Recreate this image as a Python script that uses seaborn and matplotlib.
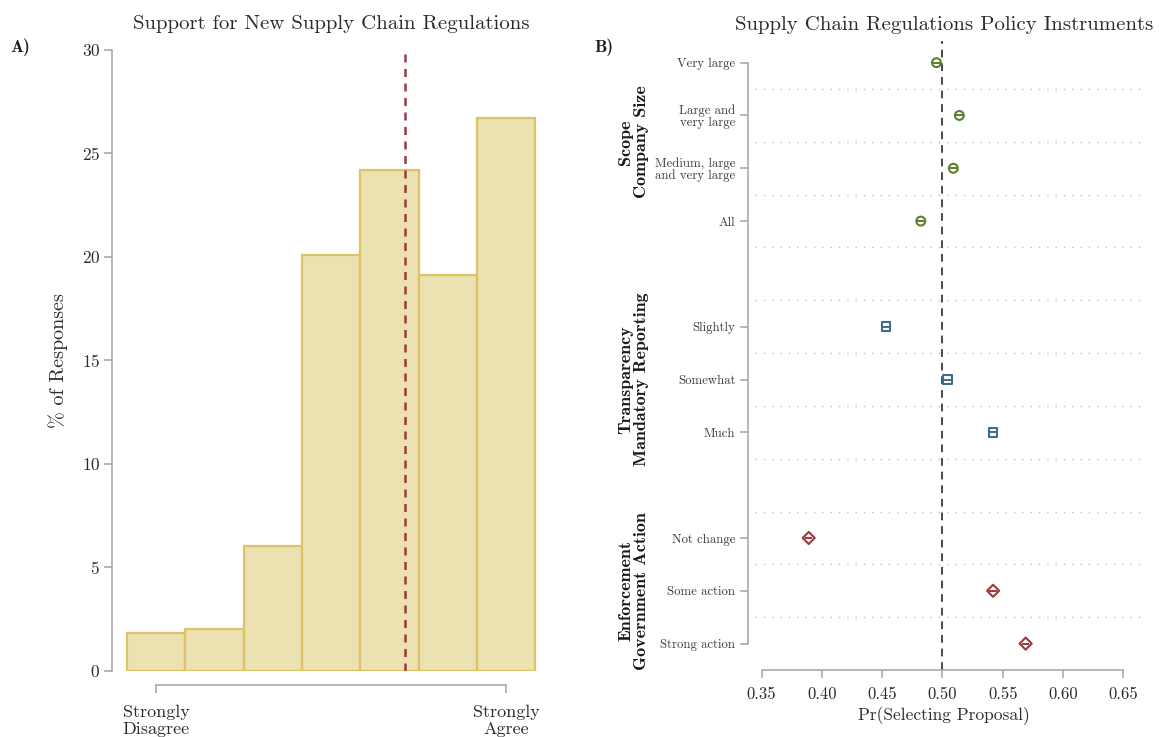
import numpy as np
import pandas as pd
import matplotlib
matplotlib.use("Agg")
import matplotlib.pyplot as plt
import matplotlib.transforms as mtransforms
import seaborn as sns

# ---- Panel A: distribution of support (7-point scale) ----
support_levels = [1, 2, 3, 4, 5, 6, 7]
support_pct = [1.8, 2.0, 6.0, 20.1, 24.2, 19.1, 26.7]
support_tick_labels = ["Strongly\nDisagree", "Strongly\nAgree"]

# ---- Panel B: marginal means by attribute level ----
scope_labels = ["Very large", "Large and\nvery large", "Medium, large\nand very large", "All"]
scope_est = [0.495, 0.514, 0.509, 0.482]
scope_lo = [0.492, 0.511, 0.506, 0.479]
scope_hi = [0.498, 0.517, 0.512, 0.485]

transp_labels = ["Slightly", "Somewhat", "Much"]
transp_est = [0.453, 0.504, 0.542]
transp_lo = [0.450, 0.501, 0.539]
transp_hi = [0.456, 0.507, 0.545]

enforce_labels = ["Not change", "Some action", "Strong action"]
enforce_est = [0.389, 0.542, 0.569]
enforce_lo = [0.386, 0.539, 0.566]
enforce_hi = [0.392, 0.545, 0.572]

group_titles = ["Scope\nCompany Size", "Transparency\nMandatory Reporting", "Enforcement\nGovernment Action"]
x_ticks_b = [0.35, 0.40, 0.45, 0.50, 0.55, 0.60, 0.65]

sns.set_theme(style="white")
plt.rcParams["font.family"] = ["cmr10", "DejaVu Serif"]
plt.rcParams["mathtext.fontset"] = "cm"
plt.rcParams["axes.unicode_minus"] = False
plt.rcParams["axes.formatter.use_mathtext"] = True

SPINE = "#a3a3a3"
TXT = "#2b2b2b"
BOLD = ["cmb10", "DejaVu Serif"]

fig = plt.figure(figsize=(11.59, 7.37), dpi=100)
W, H = 1159, 737

def px_axes(x0, x1, ytop, ybot):
    return fig.add_axes([x0 / W, (H - ybot) / H, (x1 - x0) / W, (ybot - ytop) / H])

# ================= Panel A =================
axA = px_axes(112.3, 550.0, 50.0, 670.5)
dfA = pd.DataFrame({"level": support_levels, "pct": support_pct})
sns.barplot(data=dfA, x="level", y="pct", native_scale=True, width=1.0,
            color="#ebe1b1", edgecolor="#dcc466", linewidth=1.6,
            saturation=1, ax=axA)
mean_support = np.average(support_levels, weights=support_pct)
axA.axvline(mean_support, color="#9c3a44", lw=1.8, ls=(0, (3.2, 2.6)), zorder=5)

axA.set_xlim(0.25, 7.75)
axA.set_ylim(0, 30)
axA.set_yticks([0, 5, 10, 15, 20, 25, 30])
axA.set_xticks([support_levels[0], support_levels[-1]])
axA.set_xticklabels(support_tick_labels, linespacing=1.05)
axA.tick_params(axis="y", labelsize=12.5, colors=SPINE, labelcolor=TXT, length=5.8, width=1.1, pad=3, left=True)
axA.tick_params(axis="x", labelsize=13, colors=SPINE, labelcolor=TXT, length=5.8, width=1.1, pad=8, bottom=True)
axA.set_xlabel("")
axA.set_ylabel("% of Responses", fontsize=14.5, color=TXT, labelpad=10)
axA.set_title("Support for New Supply Chain Regulations", fontsize=15, color=TXT, pad=15)
for side in ["top", "right"]:
    axA.spines[side].set_visible(False)
for side in ["left", "bottom"]:
    axA.spines[side].set_color(SPINE)
    axA.spines[side].set_linewidth(1.1)
axA.spines["bottom"].set_bounds(support_levels[0], support_levels[-1])
axA.spines["bottom"].set_position(("outward", 10.5))
axA.spines["left"].set_bounds(0, 30)

# ================= Panel B =================
axB = px_axes(747.7, 1141.0, 41.0, 670.0)

groups = [
    (scope_labels, scope_est, scope_lo, scope_hi, "#5b7f2c", "o", 5.6),
    (transp_labels, transp_est, transp_lo, transp_hi, "#3f6b8c", "s", 5.4),
    (enforce_labels, enforce_est, enforce_lo, enforce_hi, "#a0353d", "D", 5.4),
]

rows = []
ytick_pos, ytick_lab, group_centers = [], [], []
pos = 0
for labels, est, lo, hi, col, mk, ms in groups:
    start = pos
    for lab, e, l, h in zip(labels, est, lo, hi):
        rows.append({"pos": pos, "label": lab, "est": e, "lo": l, "hi": h,
                     "color": col, "marker": mk, "ms": ms})
        ytick_pos.append(pos)
        ytick_lab.append(lab)
        pos += 1
    group_centers.append((start + pos - 1) / 2)
    pos += 1
dfB = pd.DataFrame(rows)

# separators between rows
last = ytick_pos[-1]
for yy in np.arange(0.5, last, 1.0):
    axB.axhline(yy, xmin=0.018, xmax=1.0, color="#bdbdbd", lw=1.0,
                ls=(0, (1, 5)), zorder=1)

axB.axvline(0.5, color="#4a4a4a", lw=1.4, ls=(0, (4, 3)), zorder=2)

for (labels, est, lo, hi, col, mk, ms) in groups:
    sub = dfB[dfB["color"] == col]
    axB.hlines(sub["pos"], sub["lo"], sub["hi"], color=col, lw=1.4, zorder=4)
    sns.scatterplot(data=sub, x="est", y="pos", marker=mk, s=ms ** 2 * 1.3,
                    facecolor="none", edgecolor=col, linewidth=1.5,
                    zorder=5, ax=axB, legend=False)

axB.set_xlim(0.3384, 0.6647)
axB.set_ylim(11.5, -0.41)
axB.set_xticks(x_ticks_b)
axB.set_xticklabels([f"{v:.2f}" for v in x_ticks_b])
axB.set_yticks(ytick_pos)
axB.set_yticklabels(ytick_lab, linespacing=1.0)
axB.tick_params(axis="x", labelsize=12, colors=SPINE, labelcolor=TXT, length=5.8, width=1.1, pad=6, bottom=True)
axB.tick_params(axis="y", labelsize=9.2, colors=SPINE, labelcolor="#3a3a3a", length=5.8, width=1.1, pad=3, left=True)
axB.set_xlabel("Pr(Selecting Proposal)", fontsize=12.5, color=TXT, labelpad=3)
axB.set_ylabel("")
axB.set_title("Supply Chain Regulations Policy Instruments", fontsize=15, color=TXT, pad=8)
for side in ["top", "right"]:
    axB.spines[side].set_visible(False)
for side in ["left", "bottom"]:
    axB.spines[side].set_color(SPINE)
    axB.spines[side].set_linewidth(1.1)
axB.spines["left"].set_bounds(0, last)
axB.spines["bottom"].set_bounds(x_ticks_b[0], x_ticks_b[-1])

trans = mtransforms.blended_transform_factory(axB.transAxes, axB.transData)
for title, yc in zip(group_titles, group_centers):
    axB.text(-114 / 393.3, yc, title, transform=trans, rotation=90,
             ha="center", va="center", fontsize=13, family=BOLD,
             color="#1a1a1a", linespacing=1.05)

# panel letters
fig.text(10 / W, 1 - 47 / H, "A)", fontsize=12.5, family=BOLD, color="#1a1a1a", va="center")
fig.text(594 / W, 1 - 47 / H, "B)", fontsize=12.5, family=BOLD, color="#1a1a1a", va="center")

fig.savefig("out.png", dpi=100)
